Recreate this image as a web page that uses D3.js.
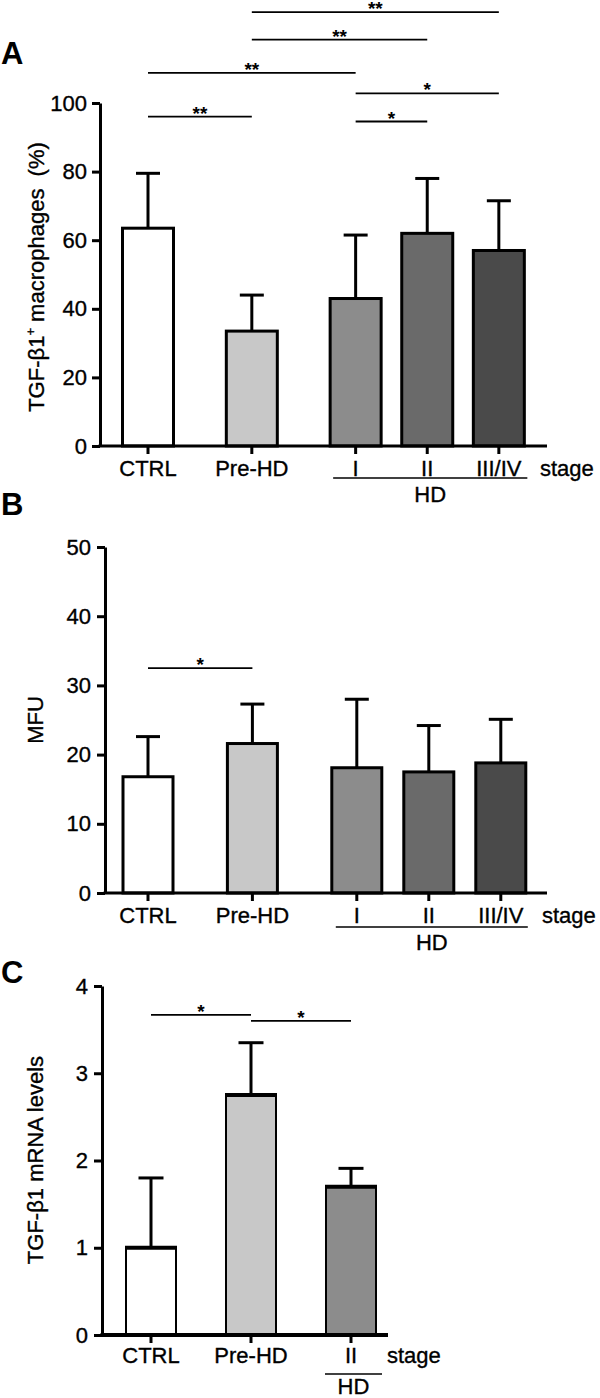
<!DOCTYPE html>
<html><head><meta charset="utf-8">
<script src="https://cdn.jsdelivr.net/npm/d3@7"></script>
<style>
body{margin:0;background:#fff}
text{font-family:"Liberation Sans",Arial,Helvetica,sans-serif;fill:#000}
.lbl{stroke:#000;stroke-width:0.35px}
</style>
</head><body>
<svg id="chart" width="600" height="1398"></svg>
<script>
// ---------- Panel A data ----------
const catsA = ["CTRL","Pre-HD","I","II","III/IV"];
const groupsA = [0,1,2,2,2];
const meanA = [63.5,33.5,43,62,57];
const sdA = [16,10.5,18.5,16,14.5];
const ticksA = [0,20,40,60,80,100];
const sigA = [
  {a:1,b:4,level:126.5,label:"**"},
  {a:1,b:3,level:118.5,label:"**"},
  {a:0,b:2,level:108.8,label:"**"},
  {a:2,b:4,level:102.8,label:"*"},
  {a:0,b:1,level:96,label:"**"},
  {a:2,b:3,level:94.6,label:"*"}
];
// ---------- Panel B data ----------
const catsB = ["CTRL","Pre-HD","I","II","III/IV"];
const groupsB = [0,1,2,2,2];
const meanB = [16.8,21.6,18.1,17.5,18.8];
const sdB = [5.8,5.7,9.9,6.7,6.3];
const ticksB = [0,10,20,30,40,50];
const sigB = [{a:0,b:1,level:32.5,label:"*"}];
// ---------- Panel C data ----------
const catsC = ["CTRL","Pre-HD","II"];
const groupsC = [0,1,2];
const meanC = [1.0,2.75,1.70];
const sdC = [0.8,0.6,0.21];
const ticksC = [0,1,2,3,4];
const sigC = [
  {a:0,b:1,level:3.67,label:"*"},
  {a:1,b:2,level:3.60,label:"*"}
];

const fillsAB = ["#ffffff","#c8c8c8","#8c8c8c","#6a6a6a","#4a4a4a"];
const fillsC = ["#ffffff","#c8c8c8","#8c8c8c"];

const svg = d3.select("#chart");
const FS = 22;

function drawPanel(o){
  const g = svg.append("g");
  const slots = o.groups.map((gr,i)=> i + o.gap*Math.min(gr,2));
  const x = d3.scaleLinear().domain([0,1]).range([o.c0,o.c0+o.unit]);
  const cx = i => x(slots[i]);
  const y = d3.scaleLinear().domain([0,o.yMax]).range([o.y0,o.yTop]);
  const data = o.cats.map((c,i)=>({c,i,m:o.means[i],s:o.sds[i],f:o.fills[i]}));

  // error bars (upper only)
  const eb = g.append("g").attr("stroke","#000").attr("stroke-width",3);
  eb.selectAll("line.v").data(data).join("line").attr("class","v")
    .attr("x1",d=>cx(d.i)).attr("x2",d=>cx(d.i))
    .attr("y1",d=>y(d.m)).attr("y2",d=>y(d.m+d.s));
  eb.selectAll("line.h").data(data).join("line").attr("class","h")
    .attr("x1",d=>cx(d.i)-o.cap/2).attr("x2",d=>cx(d.i)+o.cap/2)
    .attr("y1",d=>y(d.m+d.s)).attr("y2",d=>y(d.m+d.s));

  // bars
  g.append("g").selectAll("rect").data(data).join("rect")
    .attr("x",d=>cx(d.i)-o.barW/2).attr("width",o.barW)
    .attr("y",d=>y(d.m)).attr("height",d=>o.y0-y(d.m))
    .attr("fill",d=>d.f).attr("stroke","#000").attr("stroke-width",o.barStroke);
  if(o.topLine){
    g.append("g").selectAll("line").data(data).join("line")
      .attr("x1",d=>cx(d.i)-o.barW/2-1).attr("x2",d=>cx(d.i)+o.barW/2+1)
      .attr("y1",d=>y(d.m)).attr("y2",d=>y(d.m))
      .attr("stroke","#000").attr("stroke-width",4);
  }

  // y axis
  const ya = g.append("g").attr("transform",`translate(${o.axisX},0)`)
    .call(d3.axisLeft(y).tickValues(o.ticks).tickFormat(d3.format("d"))
      .tickSize(8).tickSizeOuter(0).tickPadding(o.tickPad));
  ya.select(".domain").attr("stroke","#000").attr("stroke-width",3);
  ya.selectAll(".tick line").attr("stroke","#000").attr("stroke-width",3);
  ya.selectAll(".tick text").attr("class","lbl").attr("font-size",FS)
    .attr("font-family","'Liberation Sans',Arial,sans-serif").attr("fill","#000");

  // x axis
  g.append("line").attr("x1",o.axisX-1.5).attr("x2",o.axisEnd)
    .attr("y1",o.y0).attr("y2",o.y0).attr("stroke","#000").attr("stroke-width",o.xStroke);
  g.append("g").selectAll("line").data(data).join("line")
    .attr("x1",d=>cx(d.i)).attr("x2",d=>cx(d.i))
    .attr("y1",o.y0).attr("y2",o.y0+8).attr("stroke","#000").attr("stroke-width",3);
  g.append("g").selectAll("text").data(data).join("text").attr("class","lbl")
    .attr("x",d=>cx(d.i)).attr("y",o.y0+o.labelDy)
    .attr("text-anchor","middle").attr("font-size",FS).text(d=>d.c);
  g.append("text").attr("class","lbl").attr("x",o.stageX).attr("y",o.y0+o.labelDy)
    .attr("font-size",FS).text("stage");

  // HD bracket
  const hdIdx = data.filter(d=>o.groups[d.i]===2).map(d=>d.i);
  const hx1 = cx(hdIdx[0]) - o.barW/2 + o.hdPadL;
  const hx2 = cx(hdIdx[hdIdx.length-1]) + o.barW/2 + o.hdPadR;
  g.append("line").attr("x1",hx1).attr("x2",hx2)
    .attr("y1",o.y0+o.hdLineDy).attr("y2",o.y0+o.hdLineDy)
    .attr("stroke","#000").attr("stroke-width",1.5);
  g.append("text").attr("class","lbl").attr("x",(hx1+hx2)/2).attr("y",o.y0+o.hdLineDy+o.hdTextDy)
    .attr("text-anchor","middle").attr("font-size",FS).text("HD");

  // significance bars
  const sg = g.append("g");
  o.sig.forEach(s=>{
    const x1 = cx(s.a), x2 = cx(s.b);
    sg.append("line").attr("x1",x1).attr("x2",x2).attr("y1",y(s.level)).attr("y2",y(s.level))
      .attr("stroke","#000").attr("stroke-width",1.8);
    sg.append("text").attr("x",(x1+x2)/2).attr("y",y(s.level)+3)
      .attr("text-anchor","middle").attr("font-size",19).attr("font-weight","bold").text(s.label);
  });

  // y title
  const t = g.append("text").attr("class","lbl").attr("text-anchor","middle")
    .attr("transform",`translate(${o.titleX},${o.titleY}) rotate(-90)`)
    .attr("font-size",FS);
  o.title(t);

  // panel letter
  g.append("text").attr("x",1).attr("y",o.letterY).attr("font-size",31)
    .attr("font-weight","bold").text(o.letter);
}

// Panel A
drawPanel({
  cats:catsA, groups:groupsA, means:meanA, sds:sdA, ticks:ticksA, sig:sigA, fills:fillsAB,
  yMax:100, y0:446, yTop:103, axisX:100, axisEnd:547, c0:148, unit:71.6, gap:0.45,
  barW:51, cap:24, barStroke:3, xStroke:3, tickPad:5, labelDy:30, stageX:540,
  hdPadL:3, hdPadR:3, hdLineDy:32, hdTextDy:24, titleX:44, titleY:277, letterY:64, letter:"A",
  title:t=>{ t.append("tspan").text("TGF-β1");
             t.append("tspan").attr("font-size",13).attr("dy",-9).text("+");
             t.append("tspan").attr("dy",9).text(" macrophages\u00a0\u00a0(%)"); }
});

// Panel B
drawPanel({
  cats:catsB, groups:groupsB, means:meanB, sds:sdB, ticks:ticksB, sig:sigB, fills:fillsAB,
  yMax:50, y0:893, yTop:547, axisX:105, axisEnd:547, c0:148, unit:72, gap:0.45,
  barW:50, cap:24, barStroke:3, xStroke:3, tickPad:6, labelDy:30, stageX:542,
  hdPadL:4, hdPadR:2, hdLineDy:34, hdTextDy:23, titleX:43, titleY:720, letterY:515, letter:"B",
  title:t=>{ t.text("MFU"); }
});

// Panel C
drawPanel({
  cats:catsC, groups:groupsC, means:meanC, sds:sdC, ticks:ticksC, sig:sigC, fills:fillsC,
  yMax:4, y0:1335, yTop:986, axisX:102, axisEnd:388, c0:151, unit:100, gap:0,
  barW:50, cap:25, barStroke:2, xStroke:4, tickPad:6, labelDy:28, stageX:387,
  hdPadL:-1, hdPadR:6, hdLineDy:39, hdTextDy:20, titleX:43, titleY:1160, letterY:983, letter:"C",
  topLine:true,
  title:t=>{ t.text("TGF-β1 mRNA levels"); }
});
</script>
</body></html>
